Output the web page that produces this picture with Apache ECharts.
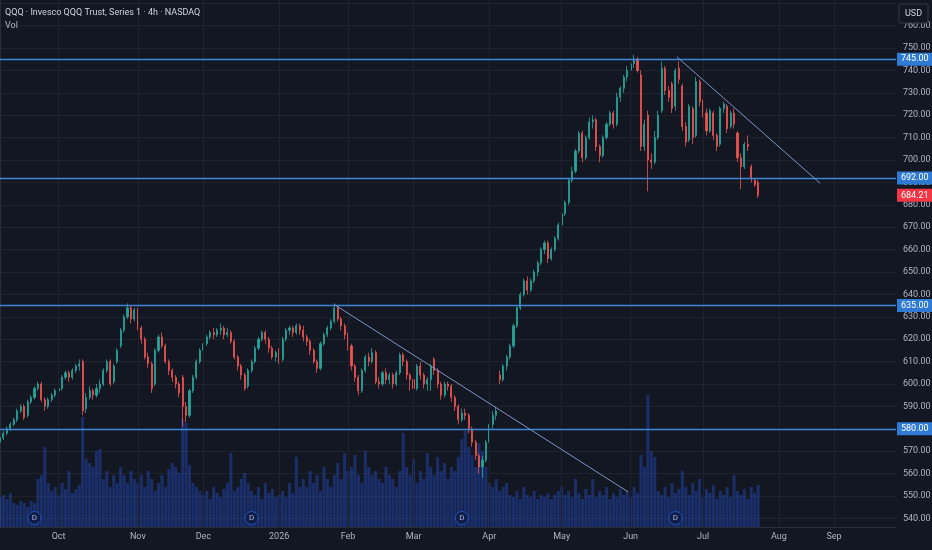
<!DOCTYPE html>
<html>
<head>
<meta charset="utf-8">
<script src="https://cdn.jsdelivr.net/npm/echarts@6/dist/echarts.min.js"></script>
<style>
  html, body { margin: 0; padding: 0; background: #131722; }
  #chart { width: 932px; height: 550px; }
</style>
</head>
<body>
<div id="chart"></div>
<script>
// one candle per trading day, index 0 = Sep 8 2025 ... 220 = Jul 2026
// [open, close, low, high]
const ohlc = [
  [574,576,573,577],[576,578,575,579],[578,580,577,581],[580,582,579,583],[582,584,581,585],
  [584,588,583,589],[588,590,587,591],[590,585,584,591],[586,592,585,593],[592,594,591,595],
  [594,598,593,599],[598,600,597,601],[600,593,592,601],[593,590,588,594],[590,593,589,594],
  [593,595,592,596],[595,597,594,598],[597,598,595,600],[598,603,597,604],[603,605,602,606],
  [605,603,601,606],[603,606,602,607],[606,608,605,609],[608,609,606,611],[610,588,586,611],
  [589,594,587,596],[594,597,593,599],[597,595,593,598],[595,598,594,600],[598,600,596,602],
  [600,606,599,607],[606,610,605,611],[610,600,599,611],[601,608,600,609],[610,615,609,616],
  [617,624,616,625],[624,630,623,631],[630,634,629,636],[634,629,627,635],[629,633,628,634],
  [633,625,624,634],[625,620,618,626],[620,612,611,621],[612,609,607,614],[609,598,596,610],
  [600,615,599,616],[615,621,614,622],[621,617,616,623],[617,610,609,618],[610,606,604,611],
  [606,603,601,607],[603,600,598,604],[600,596,594,601],[603,590,581,604],[590,586,583,592],
  [586,597,585,598],[597,603,596,604],[603,610,602,611],[610,615,609,616],[615,618,614,619],
  [618,621,617,622],[621,623,620,624],[623,622,620,625],[622,624,621,625],[624,625,622,627],
  [625,622,620,626],[622,623,621,625],[623,619,618,624],[619,612,611,620],[612,608,606,613],
  [608,604,602,609],[604,598,597,605],[599,606,598,607],[606,610,605,611],[610,616,609,617],
  [616,620,615,621],[620,623,619,624],[623,620,618,624],[620,616,614,621],[616,612,611,617],
  [612,614,610,615],[614,610,609,616],[611,620,610,621],[620,624,619,625],[624,625,622,626],
  [625,623,621,626],[623,626,622,627],[626,624,622,627],[624,621,619,626],[621,619,617,622],
  [619,615,613,620],[615,610,609,616],[610,607,605,611],[607,618,606,619],[618,622,617,623],
  [622,625,621,626],[625,628,624,629],[628,634,627,636],[634,629,628,635],[629,626,624,630],
  [626,622,620,627],[622,617,615,623],[617,608,606,618],[608,603,601,609],[603,597,595,604],
  [597,606,596,607],[606,612,605,613],[612,610,608,614],[610,614,609,616],[614,601,600,615],
  [601,600,598,603],[600,605,599,606],[605,602,600,607],[602,604,600,605],[604,600,598,605],
  [600,605,599,606],[605,613,604,614],[613,610,608,614],[610,604,602,611],[604,602,597,605],
  [602,598,596,603],[598,608,597,609],[608,604,602,610],[604,600,598,605],[600,602,597,603],
  [602,608,597,609],[611,606,604,612],[606,600,598,607],[600,595,593,601],[595,600,594,601],
  [600,599,597,601],[599,594,592,600],[594,590,588,595],[590,584,582,591],[584,587,583,589],
  [587,586,584,589],[586,580,578,587],[580,574,572,581],[574,568,566,575],[568,563,560,569],
  [563,566,558,568],[566,574,565,575],[574,582,573,583],[582,586,580,588],[586,588,584,590],
  [604,602,600,606],[602,608,601,609],[608,612,606,613],[612,617,611,618],[617,626,616,627],
  [626,634,625,635],[634,640,633,641],[640,646,639,647],[646,642,640,648],[642,646,641,647],
  [646,650,645,651],[650,654,648,655],[654,660,653,661],[660,663,658,664],[663,656,654,664],
  [656,660,655,661],[660,665,659,666],[665,671,664,672],[671,676,670,677],[676,681,675,682],
  [681,691,680,692],[691,695,690,697],[695,704,694,705],[704,712,703,713],[712,701,699,713],
  [701,710,700,711],[710,717,709,719],[717,718,714,720],[718,706,704,719],[706,702,699,707],
  [702,710,701,711],[710,716,709,717],[716,721,715,722],[721,716,714,722],[716,728,715,730],
  [728,732,726,733],[732,737,730,738],[737,740,735,742],[740,743,739,745],[743,745,741,747],
  [745,740,739,746],[738,706,704,740],[706,716,704,718],[720,700,686,722],[700,699,696,703],
  [699,710,698,713],[710,720,709,722],[722,741,721,744],[741,731,729,742],[731,728,726,733],
  [734,723,721,735],[724,740,722,741],[741,736,734,744],[733,715,713,734],[715,708,706,717],
  [709,724,708,725],[723,710,707,724],[711,735,710,737],[735,726,724,736],[726,721,719,727],
  [721,713,711,723],[713,722,712,723],[721,711,709,722],[711,706,704,712],[707,723,706,724],
  [723,725,721,726],[724,714,712,725],[715,721,714,722],[721,716,714,723],[712,701,699,713],
  [701,697,687,703],[697,707,696,708],[707,706,704,711],[697,692,690,698],[691,689,688,692],
  [690,684.21,683,691]
];

// volume, millions of shares
const volumes = [
  15,16,14,17, 12,11,13,12,10,13,12, 24,26,40,22, 18,20,16,22,19,28,17,19,21, 55,
  34,32,30, 38,39, 24,28,20,26,22,30,26,22,28,24, 22,26,20,28,24,18,22,26,20,
  29,32,30,27,54,52,31, 22,20,18, 16,18,14,20,17,15,19,22,37,18,
  20,24,27,22,18,16,20,14,22,17,19,15, 16,18,15,22,17,35,20,
  24,20,28,22,26,18,30,24,20,26, 32,24,37,28,30,36,26,22,38,
  30,26,28,24,22,30,26,24,20,28, 47,
  30,26,34,22,28,24,37,30,26,35,28,32,24,30,28, 35,44,48,40,36,30,42,38,30,
  22,20,24,18,20,22, 16,15,18,14,20,16,15,18,14,16,15,17,14,16,18,
  20,16,18,15,24,17,14,19,16,24,15,18,16,20,14,17,15,19,16, 18,15,20,17,
  36,30,66,38,35, 18,16,20,15,22,17,19,28,
  20,16,22,18,24,15,19,17,21,14,18,16,20,15,26,18,16,19,14,20,17,21
];

const monthIdx = [17, 40, 59, 81, 101, 120, 142, 163, 183, 204, 226, 242];
const monthText = ['Oct', 'Nov', 'Dec', '2026', 'Feb', 'Mar', 'Apr', 'May', 'Jun', 'Jul', 'Aug', 'Sep'];
const lastIdx = 260;

const levels = [745, 692, 635, 580];
const lastPrice = 684.21;
const dividendIdx = [10, 73, 134, 196];
const trendA = [[97, 635.5], [182.2, 551.9]];
const trendB = [[196.4, 746.1], [238, 689.6]];

const BG = '#131722';
const GRID = '#1f232e';
const FONT = 'Roboto';
const PRICE_TOP = 780;
const PRICE_AXIS = 536.2; // price sitting on the time axis line

const chart = echarts.init(document.getElementById('chart'));

const levelLines = levels.map(v => ({
  yAxis: v,
  lineStyle: { color: '#3d86d9', width: 1.4, type: 'solid' },
  label: {
    show: true, position: 'end', distance: 1, formatter: v.toFixed(2),
    backgroundColor: '#2f7bd4', color: '#ffffff', padding: [2, 4],
    fontSize: 9, fontFamily: FONT
  }
}));

const option = {
  backgroundColor: BG,
  animation: false,
  grid: [
    { left: 0, right: 36, top: -19.2, bottom: 9.2, outerBoundsMode: 'none', containLabel: false },
    { left: 0, right: 36, top: 387, bottom: 23, outerBoundsMode: 'none', containLabel: false }
  ],
  xAxis: [
    { type: 'value', gridIndex: 0, min: 0, max: lastIdx, show: false, splitLine: { show: false } },
    {
      type: 'value', gridIndex: 1, min: 0, max: lastIdx, interval: 1, z: 4,
      axisLine: { show: true, lineStyle: { color: '#2a2e39' } },
      axisTick: { show: false },
      splitLine: { show: false },
      axisLabel: {
        color: '#b2b5be', fontSize: 9, fontFamily: FONT, margin: 5,
        formatter: v => {
          const k = monthIdx.indexOf(Math.round(v));
          return k < 0 ? '' : monthText[k];
        }
      }
    }
  ],
  yAxis: [
    {
      type: 'value', gridIndex: 0, position: 'right', min: 530, max: 780, interval: 10,
      axisLine: { show: true, lineStyle: { color: '#2a2e39' } },
      axisTick: { show: false },
      axisLabel: {
        color: '#b2b5be', fontSize: 9, fontFamily: FONT, margin: 7,
        formatter: v => (v < 540 || v > 760) ? '' : v.toFixed(2)
      },
      splitLine: { lineStyle: { color: GRID } }
    },
    { type: 'value', gridIndex: 1, min: 0, max: 70, show: false, splitLine: { show: false } }
  ],
  series: [
    {
      // month grid lines, stopping at the time axis
      type: 'line', xAxisIndex: 0, yAxisIndex: 0, data: [], z: 1, silent: true,
      markLine: {
        symbol: 'none', silent: true, animation: false,
        label: { show: false },
        lineStyle: { color: GRID, width: 1, type: 'solid' },
        data: monthIdx.map(i => [{ coord: [i, PRICE_TOP] }, { coord: [i, PRICE_AXIS] }])
      }
    },
    {
      type: 'bar', xAxisIndex: 1, yAxisIndex: 1, z: 1, barWidth: 3,
      data: volumes.map((v, i) => [i, v]),
      itemStyle: { color: 'rgba(41, 98, 255, 0.33)' }
    },
    {
      type: 'scatter', xAxisIndex: 1, yAxisIndex: 1, z: 2, clip: false,
      data: dividendIdx.map(i => [i, 0]),
      symbol: 'circle', symbolSize: 13, symbolOffset: [0, -9],
      itemStyle: { color: '#0e1a3f', borderColor: '#2b55d6', borderWidth: 1 },
      label: { show: true, position: 'inside', formatter: 'D', color: '#c8d6ff', fontSize: 8, fontFamily: FONT }
    },
    {
      type: 'candlestick', xAxisIndex: 0, yAxisIndex: 0, z: 3, barWidth: 1.6,
      encode: { x: 0, y: [1, 2, 3, 4] },
      data: ohlc.map((d, i) => [i, d[0], d[1], d[2], d[3]]),
      itemStyle: {
        color: '#26a69a', color0: '#ef5350',
        borderColor: '#26a69a', borderColor0: '#ef5350', borderWidth: 0.8
      },
      markLine: {
        symbol: 'none', silent: true, animation: false,
        data: levelLines.concat([
          {
            yAxis: lastPrice,
            lineStyle: { color: 'rgba(0,0,0,0)', width: 0 },
            label: {
              show: true, position: 'end', distance: 1, formatter: lastPrice.toFixed(2),
              backgroundColor: '#f23645', color: '#ffffff', padding: [2, 4],
              fontSize: 9, fontFamily: FONT
            }
          },
          [{ coord: trendA[0] }, { coord: trendA[1] }],
          [{ coord: trendB[0] }, { coord: trendB[1] }]
        ]),
        lineStyle: { color: '#7f95c4', width: 1, type: 'solid' },
        label: { show: false }
      }
    }
  ],
  graphic: [
    { type: 'rect', z: 3, shape: { x: 0, y: 528, width: 896, height: 22 }, style: { fill: BG } },
    {
      type: 'text', left: 5, top: 8, z: 10,
      style: { text: 'QQQ · Invesco QQQ Trust, Series 1 · 4h · NASDAQ', fill: '#d1d4dc', font: '9px Roboto' }
    },
    { type: 'text', left: 5, top: 21, z: 10, style: { text: 'Vol', fill: '#b2b5be', font: '9px Roboto' } },
    {
      type: 'rect', z: 10, shape: { x: 899, y: 4, width: 29, height: 19, r: 2 },
      style: { fill: BG, stroke: '#363a45', lineWidth: 1 }
    },
    {
      type: 'text', z: 11, x: 913.5, y: 13.5,
      style: { text: 'USD', fill: '#d1d4dc', font: '9px Roboto', align: 'center', verticalAlign: 'middle' }
    }
  ]
};

chart.setOption(option);
</script>
</body>
</html>
